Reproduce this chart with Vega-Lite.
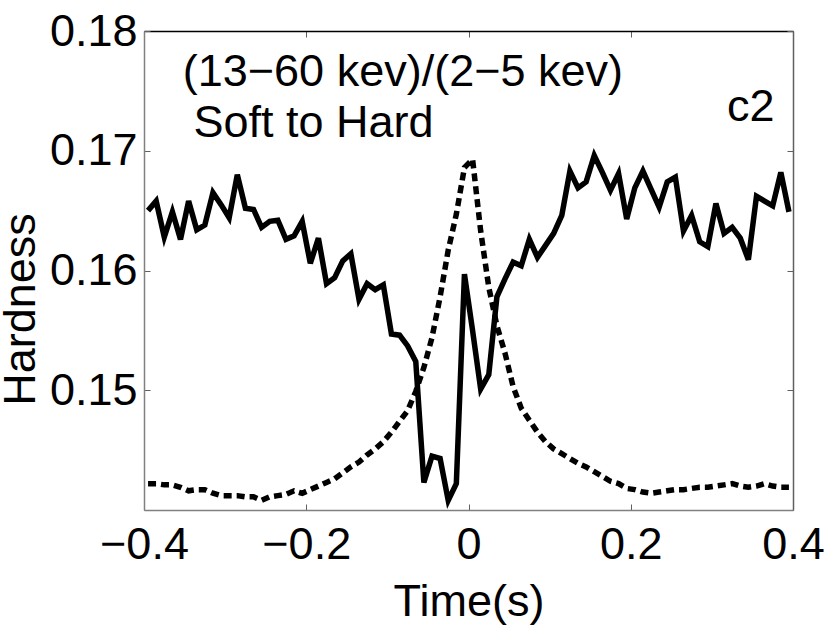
{
  "$schema": "https://vega.github.io/schema/vega-lite/v6.json",
  "autosize": "none",
  "width": 649,
  "height": 479,
  "padding": {"left": 144, "top": 31, "right": 37, "bottom": 115},
  "background": "white",
  "config": {
    "view": {"stroke": null},
    "axis": {
      "labelFont": "Liberation Sans",
      "labelFontSize": 45,
      "labelColor": "black",
      "titleFont": "Liberation Sans",
      "titleFontSize": 45,
      "titleFontWeight": "normal",
      "titleColor": "black",
      "grid": false,
      "domainColor": "#808080",
      "domainWidth": 1.5,
      "tickColor": "#606060",
      "tickWidth": 1,
      "tickSize": -6
    }
  },
  "datasets": {
    "curves": [
      {"t": -0.395, "h": 0.1650, "s": "hardness"},
      {"t": -0.385, "h": 0.1658, "s": "hardness"},
      {"t": -0.375, "h": 0.1628, "s": "hardness"},
      {"t": -0.365, "h": 0.1649, "s": "hardness"},
      {"t": -0.355, "h": 0.1626, "s": "hardness"},
      {"t": -0.345, "h": 0.1658, "s": "hardness"},
      {"t": -0.335, "h": 0.1634, "s": "hardness"},
      {"t": -0.325, "h": 0.1638, "s": "hardness"},
      {"t": -0.315, "h": 0.1665, "s": "hardness"},
      {"t": -0.305, "h": 0.1655, "s": "hardness"},
      {"t": -0.295, "h": 0.1644, "s": "hardness"},
      {"t": -0.285, "h": 0.1680, "s": "hardness"},
      {"t": -0.275, "h": 0.1652, "s": "hardness"},
      {"t": -0.265, "h": 0.1651, "s": "hardness"},
      {"t": -0.255, "h": 0.1636, "s": "hardness"},
      {"t": -0.245, "h": 0.1641, "s": "hardness"},
      {"t": -0.235, "h": 0.1642, "s": "hardness"},
      {"t": -0.225, "h": 0.1626, "s": "hardness"},
      {"t": -0.215, "h": 0.1629, "s": "hardness"},
      {"t": -0.205, "h": 0.1641, "s": "hardness"},
      {"t": -0.195, "h": 0.1606, "s": "hardness"},
      {"t": -0.185, "h": 0.1627, "s": "hardness"},
      {"t": -0.175, "h": 0.1589, "s": "hardness"},
      {"t": -0.165, "h": 0.1594, "s": "hardness"},
      {"t": -0.155, "h": 0.1608, "s": "hardness"},
      {"t": -0.145, "h": 0.1614, "s": "hardness"},
      {"t": -0.135, "h": 0.1576, "s": "hardness"},
      {"t": -0.125, "h": 0.1589, "s": "hardness"},
      {"t": -0.115, "h": 0.1584, "s": "hardness"},
      {"t": -0.105, "h": 0.1588, "s": "hardness"},
      {"t": -0.095, "h": 0.1547, "s": "hardness"},
      {"t": -0.085, "h": 0.1546, "s": "hardness"},
      {"t": -0.075, "h": 0.1537, "s": "hardness"},
      {"t": -0.065, "h": 0.1524, "s": "hardness"},
      {"t": -0.055, "h": 0.1423, "s": "hardness"},
      {"t": -0.045, "h": 0.1445, "s": "hardness"},
      {"t": -0.035, "h": 0.1443, "s": "hardness"},
      {"t": -0.025, "h": 0.1408, "s": "hardness"},
      {"t": -0.015, "h": 0.1422, "s": "hardness"},
      {"t": -0.005, "h": 0.1597, "s": "hardness"},
      {"t": 0.005, "h": 0.1550, "s": "hardness"},
      {"t": 0.015, "h": 0.1501, "s": "hardness"},
      {"t": 0.025, "h": 0.1513, "s": "hardness"},
      {"t": 0.035, "h": 0.1578, "s": "hardness"},
      {"t": 0.045, "h": 0.1593, "s": "hardness"},
      {"t": 0.055, "h": 0.1607, "s": "hardness"},
      {"t": 0.065, "h": 0.1604, "s": "hardness"},
      {"t": 0.075, "h": 0.1626, "s": "hardness"},
      {"t": 0.085, "h": 0.1611, "s": "hardness"},
      {"t": 0.095, "h": 0.1621, "s": "hardness"},
      {"t": 0.105, "h": 0.1631, "s": "hardness"},
      {"t": 0.115, "h": 0.1646, "s": "hardness"},
      {"t": 0.125, "h": 0.1683, "s": "hardness"},
      {"t": 0.135, "h": 0.1669, "s": "hardness"},
      {"t": 0.145, "h": 0.1674, "s": "hardness"},
      {"t": 0.155, "h": 0.1696, "s": "hardness"},
      {"t": 0.165, "h": 0.1682, "s": "hardness"},
      {"t": 0.175, "h": 0.1667, "s": "hardness"},
      {"t": 0.185, "h": 0.1681, "s": "hardness"},
      {"t": 0.195, "h": 0.1643, "s": "hardness"},
      {"t": 0.205, "h": 0.1669, "s": "hardness"},
      {"t": 0.215, "h": 0.1683, "s": "hardness"},
      {"t": 0.225, "h": 0.1668, "s": "hardness"},
      {"t": 0.235, "h": 0.1653, "s": "hardness"},
      {"t": 0.245, "h": 0.1674, "s": "hardness"},
      {"t": 0.255, "h": 0.1678, "s": "hardness"},
      {"t": 0.265, "h": 0.1633, "s": "hardness"},
      {"t": 0.275, "h": 0.1646, "s": "hardness"},
      {"t": 0.285, "h": 0.1624, "s": "hardness"},
      {"t": 0.295, "h": 0.1620, "s": "hardness"},
      {"t": 0.305, "h": 0.1656, "s": "hardness"},
      {"t": 0.315, "h": 0.1631, "s": "hardness"},
      {"t": 0.325, "h": 0.1636, "s": "hardness"},
      {"t": 0.335, "h": 0.1627, "s": "hardness"},
      {"t": 0.345, "h": 0.1609, "s": "hardness"},
      {"t": 0.355, "h": 0.1662, "s": "hardness"},
      {"t": 0.365, "h": 0.1658, "s": "hardness"},
      {"t": 0.375, "h": 0.1654, "s": "hardness"},
      {"t": 0.385, "h": 0.1682, "s": "hardness"},
      {"t": 0.395, "h": 0.1649, "s": "hardness"},
      {"t": -0.395, "h": 0.1422, "s": "profile"},
      {"t": -0.385, "h": 0.1422, "s": "profile"},
      {"t": -0.375, "h": 0.1421, "s": "profile"},
      {"t": -0.365, "h": 0.1421, "s": "profile"},
      {"t": -0.355, "h": 0.1419, "s": "profile"},
      {"t": -0.345, "h": 0.1416, "s": "profile"},
      {"t": -0.335, "h": 0.1417, "s": "profile"},
      {"t": -0.325, "h": 0.1417, "s": "profile"},
      {"t": -0.315, "h": 0.1414, "s": "profile"},
      {"t": -0.305, "h": 0.1412, "s": "profile"},
      {"t": -0.295, "h": 0.1412, "s": "profile"},
      {"t": -0.285, "h": 0.1412, "s": "profile"},
      {"t": -0.275, "h": 0.1411, "s": "profile"},
      {"t": -0.265, "h": 0.1411, "s": "profile"},
      {"t": -0.255, "h": 0.1408, "s": "profile"},
      {"t": -0.245, "h": 0.1411, "s": "profile"},
      {"t": -0.235, "h": 0.1412, "s": "profile"},
      {"t": -0.225, "h": 0.1413, "s": "profile"},
      {"t": -0.215, "h": 0.1416, "s": "profile"},
      {"t": -0.205, "h": 0.1414, "s": "profile"},
      {"t": -0.195, "h": 0.1417, "s": "profile"},
      {"t": -0.185, "h": 0.1420, "s": "profile"},
      {"t": -0.175, "h": 0.1423, "s": "profile"},
      {"t": -0.165, "h": 0.1426, "s": "profile"},
      {"t": -0.155, "h": 0.1431, "s": "profile"},
      {"t": -0.145, "h": 0.1436, "s": "profile"},
      {"t": -0.135, "h": 0.1440, "s": "profile"},
      {"t": -0.125, "h": 0.1446, "s": "profile"},
      {"t": -0.115, "h": 0.1451, "s": "profile"},
      {"t": -0.105, "h": 0.1457, "s": "profile"},
      {"t": -0.095, "h": 0.1465, "s": "profile"},
      {"t": -0.085, "h": 0.1474, "s": "profile"},
      {"t": -0.075, "h": 0.1483, "s": "profile"},
      {"t": -0.065, "h": 0.1499, "s": "profile"},
      {"t": -0.055, "h": 0.1519, "s": "profile"},
      {"t": -0.045, "h": 0.1544, "s": "profile"},
      {"t": -0.035, "h": 0.1578, "s": "profile"},
      {"t": -0.025, "h": 0.1617, "s": "profile"},
      {"t": -0.015, "h": 0.1647, "s": "profile"},
      {"t": -0.005, "h": 0.1686, "s": "profile"},
      {"t": 0.005, "h": 0.1693, "s": "profile"},
      {"t": 0.015, "h": 0.1633, "s": "profile"},
      {"t": 0.025, "h": 0.1586, "s": "profile"},
      {"t": 0.035, "h": 0.1554, "s": "profile"},
      {"t": 0.045, "h": 0.1531, "s": "profile"},
      {"t": 0.055, "h": 0.1503, "s": "profile"},
      {"t": 0.065, "h": 0.1485, "s": "profile"},
      {"t": 0.075, "h": 0.1475, "s": "profile"},
      {"t": 0.085, "h": 0.1465, "s": "profile"},
      {"t": 0.095, "h": 0.1457, "s": "profile"},
      {"t": 0.105, "h": 0.1451, "s": "profile"},
      {"t": 0.115, "h": 0.1447, "s": "profile"},
      {"t": 0.125, "h": 0.1443, "s": "profile"},
      {"t": 0.135, "h": 0.1439, "s": "profile"},
      {"t": 0.145, "h": 0.1436, "s": "profile"},
      {"t": 0.155, "h": 0.1432, "s": "profile"},
      {"t": 0.165, "h": 0.1428, "s": "profile"},
      {"t": 0.175, "h": 0.1424, "s": "profile"},
      {"t": 0.185, "h": 0.1422, "s": "profile"},
      {"t": 0.195, "h": 0.1418, "s": "profile"},
      {"t": 0.205, "h": 0.1417, "s": "profile"},
      {"t": 0.215, "h": 0.1415, "s": "profile"},
      {"t": 0.225, "h": 0.1414, "s": "profile"},
      {"t": 0.235, "h": 0.1415, "s": "profile"},
      {"t": 0.245, "h": 0.1416, "s": "profile"},
      {"t": 0.255, "h": 0.1417, "s": "profile"},
      {"t": 0.265, "h": 0.1417, "s": "profile"},
      {"t": 0.275, "h": 0.1418, "s": "profile"},
      {"t": 0.285, "h": 0.1419, "s": "profile"},
      {"t": 0.295, "h": 0.1419, "s": "profile"},
      {"t": 0.305, "h": 0.1420, "s": "profile"},
      {"t": 0.315, "h": 0.1421, "s": "profile"},
      {"t": 0.325, "h": 0.1422, "s": "profile"},
      {"t": 0.335, "h": 0.1420, "s": "profile"},
      {"t": 0.345, "h": 0.1419, "s": "profile"},
      {"t": 0.355, "h": 0.1420, "s": "profile"},
      {"t": 0.365, "h": 0.1422, "s": "profile"},
      {"t": 0.375, "h": 0.1420, "s": "profile"},
      {"t": 0.385, "h": 0.1419, "s": "profile"},
      {"t": 0.395, "h": 0.1419, "s": "profile"}
    ],
    "notes": [
      {"t": -0.3522, "h": 0.17538, "label": "(13−60 kev)/(2−5 kev)"},
      {"t": -0.3391, "h": 0.17114, "label": "Soft to Hard"},
      {"t": 0.3186, "h": 0.17248, "label": "c2"}
    ]
  },
  "resolve": {"axis": {"x": "independent", "y": "independent"}},
  "layer": [
    {
      "data": {"name": "curves"},
      "transform": [{"filter": "datum.s === 'hardness'"}],
      "mark": {"type": "line", "color": "black", "strokeWidth": 5.5, "clip": true},
      "encoding": {
        "x": {
          "field": "t", "type": "quantitative",
          "scale": {"domain": [-0.4, 0.4], "nice": false, "zero": false},
          "axis": {
            "orient": "bottom", "values": [-0.4, -0.2, 0, 0.2, 0.4], "format": ".1~f",
            "labelBaseline": "alphabetic", "labelPadding": 54, "labelFlush": false,
            "title": "Time(s)", "titleBaseline": "alphabetic", "titleY": 105.5
          }
        },
        "y": {
          "field": "h", "type": "quantitative",
          "scale": {"domain": [0.14, 0.18], "nice": false, "zero": false},
          "axis": {
            "orient": "left", "values": [0.15, 0.16, 0.17, 0.18], "format": ".2f",
            "labelPadding": 13, "labelFlush": false, "labelBaseline": "middle",
            "title": "Hardness", "titleAngle": 270, "titleBaseline": "alphabetic",
            "titleAlign": "center", "titleX": -110, "titleY": 278
          }
        }
      }
    },
    {
      "data": {"name": "curves"},
      "transform": [{"filter": "datum.s === 'profile'"}],
      "mark": {"type": "line", "color": "black", "strokeWidth": 5.5, "strokeDash": [8, 5], "strokeCap": "butt", "clip": true},
      "encoding": {
        "x": {
          "field": "t", "type": "quantitative",
          "axis": {"orient": "top", "values": [-0.4, -0.2, 0, 0.2, 0.4], "labels": false, "title": null, "domainColor": "black"}
        },
        "y": {
          "field": "h", "type": "quantitative",
          "axis": {"orient": "right", "values": [0.15, 0.16, 0.17, 0.18], "labels": false, "title": null, "domainColor": "#606060"}
        }
      }
    },
    {
      "data": {"name": "notes"},
      "mark": {"type": "text", "font": "Liberation Sans", "fontSize": 45, "align": "left", "baseline": "alphabetic", "color": "black"},
      "encoding": {
        "x": {"field": "t", "type": "quantitative", "axis": null},
        "y": {"field": "h", "type": "quantitative", "axis": null},
        "text": {"field": "label"}
      }
    }
  ]
}
